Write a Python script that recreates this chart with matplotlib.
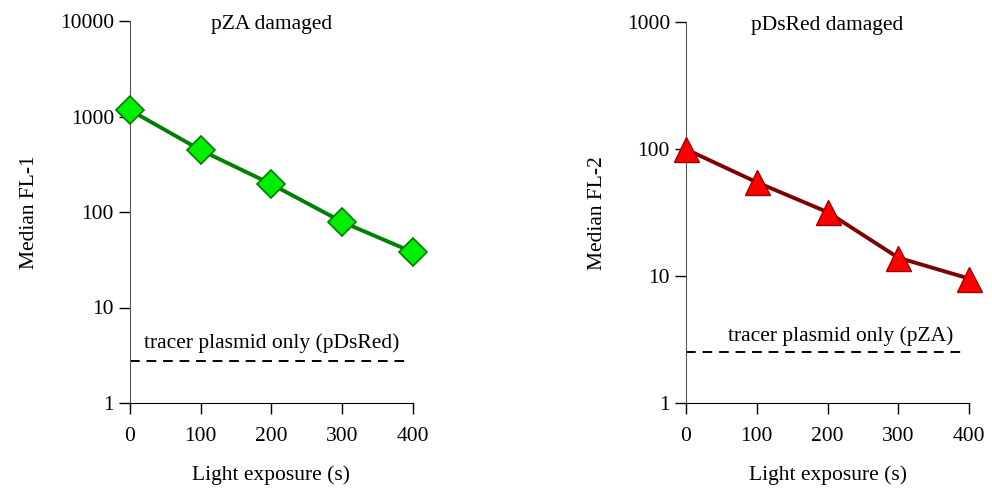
import matplotlib
matplotlib.use("Agg")
import matplotlib.pyplot as plt

plt.rcParams['font.family'] = ['Liberation Serif', 'DejaVu Serif']
plt.rcParams['font.size'] = 15.5

# ---- data ----
exposure = [0, 100, 200, 300, 400]
fl1_pza = [1170, 446, 196, 79, 38]
fl2_pdsred = [100, 55, 32, 14, 9.6]
tracer_fl1 = 2.77          # tracer plasmid only (pDsRed), FL-1
tracer_fl2 = 2.52          # tracer plasmid only (pZA), FL-2
tracer_x = [0, 390]
tracer_x2 = [0, 397]

x_ticks = [0, 100, 200, 300, 400]
left_yticks = [1, 10, 100, 1000, 10000]
right_yticks = [1, 10, 100, 1000]

FS = 15.5


def style_axes(ax, yticks):
    ax.set_yscale('log')
    ax.set_xlim(0, 400)
    ax.set_ylim(yticks[0], yticks[-1])
    ax.set_yticks(yticks)
    ax.set_yticklabels([str(t) for t in yticks])
    ax.minorticks_off()
    ax.set_xticks(x_ticks)
    ax.set_xticklabels([str(t) for t in x_ticks])
    for side in ('top', 'right'):
        ax.spines[side].set_visible(False)
    ax.spines['left'].set_color('#555555')
    ax.spines['bottom'].set_color('black')
    ax.tick_params(axis='both', direction='out', length=8, width=1,
                   labelsize=FS, colors='black')
    ax.tick_params(axis='x', pad=9)
    ax.set_xlabel('Light exposure (s)', fontsize=FS, labelpad=14)


fig = plt.figure(figsize=(9.92, 4.92), dpi=100)
ax1 = fig.add_axes([0.131, 0.181, 0.285, 0.776])
ax2 = fig.add_axes([0.6915, 0.180, 0.2855, 0.775])

# left panel
ax1.plot(exposure, fl1_pza, color='#008000', linewidth=2.8, marker='D',
         markersize=14, markerfacecolor='#00ee00', markeredgecolor='#007a00',
         markeredgewidth=1.2, clip_on=False, zorder=3)
ax1.plot(tracer_x, [tracer_fl1, tracer_fl1], color='black', linestyle=(0, (5, 3.5)),
         linewidth=1.4)
ax1.text(200, 3.35, 'tracer plasmid only (pDsRed)', ha='center', va='bottom', fontsize=FS)
ax1.text(0.5, 0.99, 'pZA damaged', transform=ax1.transAxes, ha='center', va='center', fontsize=FS)
style_axes(ax1, left_yticks)
ax1.set_ylabel('Median FL-1', fontsize=FS, labelpad=15)

# right panel
ax2.plot(exposure, fl2_pdsred, color='#800000', linewidth=2.8, marker='^',
         markersize=18, markerfacecolor='#ff0000', markeredgecolor='#a00000',
         markeredgewidth=1.0, clip_on=False, zorder=3)
ax2.plot(tracer_x2, [tracer_fl2, tracer_fl2], color='black', linestyle=(0, (5, 3.5)),
         linewidth=1.4)
ax2.text(218, 2.85, 'tracer plasmid only (pZA)', ha='center', va='bottom', fontsize=FS)
ax2.text(0.5, 0.99, 'pDsRed damaged', transform=ax2.transAxes, ha='center', va='center', fontsize=FS)
style_axes(ax2, right_yticks)
ax2.set_ylabel('Median FL-2', fontsize=FS, labelpad=14)

fig.savefig('out.png', dpi=100)
